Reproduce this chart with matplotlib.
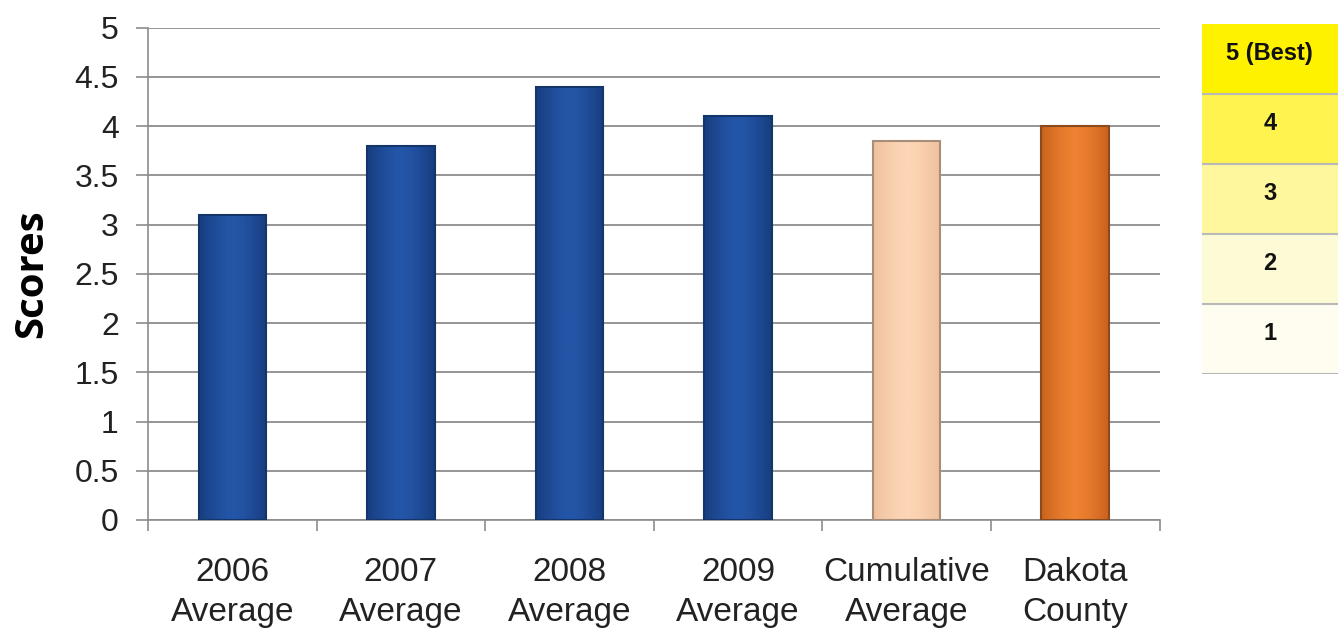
import numpy as np
import matplotlib.pyplot as plt
from matplotlib.colors import LinearSegmentedColormap

#data
categories = ["2006\nAverage", "2007\nAverage", "2008\nAverage", "2009\nAverage",
              "Cumulative\nAverage", "Dakota\nCounty"]
scores = [3.1, 3.8, 4.4, 4.1, 3.85, 4.0]
#(edge shade, centre shade) for each bar
bar_shades = [("#173d7e", "#2456a8"), ("#173d7e", "#2456a8"), ("#173d7e", "#2456a8"),
              ("#173d7e", "#2456a8"), ("#efc09c", "#fdd6b6"), ("#c9621d", "#ee8232")]
edge_colors = ["#14356c", "#14356c", "#14356c", "#14356c", "#a88e78", "#8a4a1c"]
yticks = [0, 0.5, 1, 1.5, 2, 2.5, 3, 3.5, 4, 4.5, 5]

#score key on the right
key_labels = ["5 (Best)", "4", "3", "2", "1"]
key_colors = ["#fff200", "#fff34f", "#fff79e", "#fdfad6", "#fefdf0"]

plt.rcParams["font.family"] = ["Liberation Sans", "DejaVu Sans"]

fig = plt.figure(figsize=(13.38, 6.31), dpi=100)
ax = fig.add_axes([0.1106, 0.176, 0.756, 0.780])

x = list(range(len(categories)))
bars = ax.bar(x, scores, width=0.4, color="none", edgecolor=edge_colors, linewidth=1.5, zorder=4)

#horizontal gradient inside each bar (darker sides, lighter middle)
grad = np.abs(np.linspace(-1, 1, 64)) ** 1.5
grad = 1 - grad.reshape(1, -1)
for patch, (dark, light) in zip(bars.patches, bar_shades):
    cmap = LinearSegmentedColormap.from_list("shade", [dark, light])
    x0, w, h = patch.get_x(), patch.get_width(), patch.get_height()
    im = ax.imshow(grad, cmap=cmap, aspect="auto", extent=(x0, x0 + w, 0, h), zorder=3, vmin=0, vmax=1)
    im.set_clip_path(patch)

ax.set_xlim(-0.5, len(categories) - 0.5)
ax.set_ylim(0, 5)
ax.set_yticks(yticks)
ax.set_yticklabels([f"{v:g}" for v in yticks], fontsize=23, color="#222222")
ax.yaxis.grid(True, color="#8c8c8c", linewidth=1.3, zorder=0)
ax.set_axisbelow(True)

#category labels in the middle, tick marks between categories
ax.set_xticks(x)
ax.set_xticklabels(categories, fontsize=24, color="#222222", linespacing=1.37)
ax.tick_params(axis="x", which="major", length=0, pad=27)
ax.set_xticks([i + 0.5 for i in range(-1, len(categories))], minor=True)
ax.tick_params(axis="x", which="minor", length=8, color="#8c8c8c", width=1.2)
ax.tick_params(axis="y", length=9, color="#8c8c8c", width=1.2, pad=12)

for side in ["top", "right"]:
    ax.spines[side].set_visible(False)
for side in ["left", "bottom"]:
    ax.spines[side].set_color("#8c8c8c")
    ax.spines[side].set_linewidth(1.2)

ax.set_ylabel("Scores", fontsize=29, fontweight="bold", family=["Open Sans", "DejaVu Sans"])
ax.yaxis.set_label_coords(-0.096, 0.5)

#key table
kax = fig.add_axes([0.898, 0.407, 0.102, 0.555])
n = len(key_labels)
for i, (lab, col) in enumerate(zip(key_labels, key_colors)):
    top = n - i
    kax.axhspan(top - 1, top, color=col, zorder=1)
    kax.axhline(top - 1, color="#b8b8b8", linewidth=1.5, zorder=2)
    kax.text(0.5, top - 0.42, lab, ha="center", va="center", fontsize=17, fontweight="bold", color="#111111")
kax.set_xlim(0, 1)
kax.set_ylim(0, n)
kax.axis("off")

plt.savefig("out.png", dpi=100)
